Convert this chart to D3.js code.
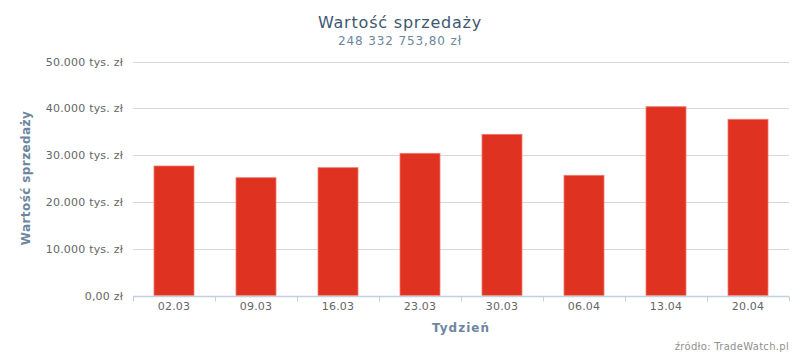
<!DOCTYPE html>
<html>
<head>
<meta charset="utf-8">
<script src="https://cdn.jsdelivr.net/npm/d3@7"></script>
<style>
  body { margin: 0; background: #fff; }
  svg { display: block; font-family: "DejaVu Sans", sans-serif; }
</style>
</head>
<body>
<div id="chart"></div>
<script>
// weekly sales, thousands of zł
const weeks = ['02.03', '09.03', '16.03', '23.03', '30.03', '06.04', '13.04', '20.04'];
const sales = [27670, 25170, 27310, 30380, 34440, 25680, 40340, 37650];
const yTicks = [0, 10000, 20000, 30000, 40000, 50000];

const width = 800, height = 356;
const plot = { left: 133, right: 789, top: 61.5, bottom: 295.5 };

const svg = d3.select('#chart').append('svg')
  .attr('width', width)
  .attr('height', height);

const x = d3.scaleBand()
  .domain(weeks)
  .range([plot.left, plot.right]);

const y = d3.scaleLinear()
  .domain([0, 50000])
  .range([plot.bottom, plot.top]);

const fmtTick = v => v === 0 ? '0,00 zł' : d3.format(',')(v).replace(/,/g, '.') + ' tys. zł';

// grid lines
svg.append('g')
  .selectAll('line')
  .data(yTicks.filter(d => d > 0))
  .enter()
  .append('line')
  .attr('x1', plot.left)
  .attr('x2', plot.right)
  .attr('y1', d => Math.round(y(d)) + 0.5)
  .attr('y2', d => Math.round(y(d)) + 0.5)
  .attr('stroke', '#d8d8d8')
  .attr('stroke-width', 1);

// y labels
svg.append('g')
  .selectAll('text')
  .data(yTicks)
  .enter()
  .append('text')
  .attr('x', plot.left - 10)
  .attr('y', d => y(d) + 4)
  .attr('text-anchor', 'end')
  .style('font-size', '11px')
  .style('letter-spacing', '0.2px')
  .attr('fill', '#666')
  .text(fmtTick);

// bars
svg.append('g')
  .selectAll('rect')
  .data(sales)
  .enter()
  .append('rect')
  .attr('x', (d, i) => x(weeks[i]) + x.bandwidth() / 2 - 20)
  .attr('y', d => y(d))
  .attr('width', 40)
  .attr('height', d => plot.bottom - y(d))
  .attr('fill', '#e03220')
  .attr('stroke', '#f07a6e')
  .attr('stroke-width', 0.8);

// x axis line + ticks
const axisY = Math.round(plot.bottom) + 0.5;
svg.append('line')
  .attr('x1', plot.left).attr('x2', plot.right)
  .attr('y1', axisY).attr('y2', axisY)
  .attr('stroke', '#c0d0e0').attr('stroke-width', 1.5);

svg.append('g')
  .selectAll('line')
  .data(weeks.concat(['end']))
  .enter()
  .append('line')
  .attr('x1', (d, i) => Math.round(plot.left + i * x.bandwidth()) + 0.5)
  .attr('x2', (d, i) => Math.round(plot.left + i * x.bandwidth()) + 0.5)
  .attr('y1', axisY)
  .attr('y2', axisY + 5)
  .attr('stroke', '#c0d0e0');

svg.append('g')
  .selectAll('text')
  .data(weeks)
  .enter()
  .append('text')
  .attr('x', d => x(d) + x.bandwidth() / 2)
  .attr('y', 310)
  .attr('text-anchor', 'middle')
  .style('font-size', '11px')
  .style('letter-spacing', '0.2px')
  .attr('fill', '#666')
  .text(d => d);

// titles
svg.append('text')
  .attr('x', 400).attr('y', 28)
  .attr('text-anchor', 'middle')
  .style('font-size', '16px')
  .style('letter-spacing', '0.8px')
  .attr('fill', '#3e576f')
  .text('Wartość sprzedaży');

svg.append('text')
  .attr('x', 400).attr('y', 45)
  .attr('text-anchor', 'middle')
  .style('font-size', '12px')
  .style('letter-spacing', '0.9px')
  .attr('fill', '#6d869f')
  .text('248 332 753,80 zł');

svg.append('text')
  .attr('transform', 'translate(30,178) rotate(-90)')
  .attr('text-anchor', 'middle')
  .style('font-size', '12px')
  .style('font-weight', 'bold')
  .style('letter-spacing', '0.4px')
  .attr('fill', '#6d869f')
  .text('Wartość sprzedaży');

svg.append('text')
  .attr('x', 461).attr('y', 332)
  .attr('text-anchor', 'middle')
  .style('font-size', '12px')
  .style('font-weight', 'bold')
  .style('letter-spacing', '1px')
  .attr('fill', '#6d869f')
  .text('Tydzień');

svg.append('text')
  .attr('x', 789).attr('y', 350)
  .attr('text-anchor', 'end')
  .style('font-size', '10px')
  .style('letter-spacing', '0.3px')
  .attr('fill', '#909090')
  .text('źródło: TradeWatch.pl');
</script>
</body>
</html>
